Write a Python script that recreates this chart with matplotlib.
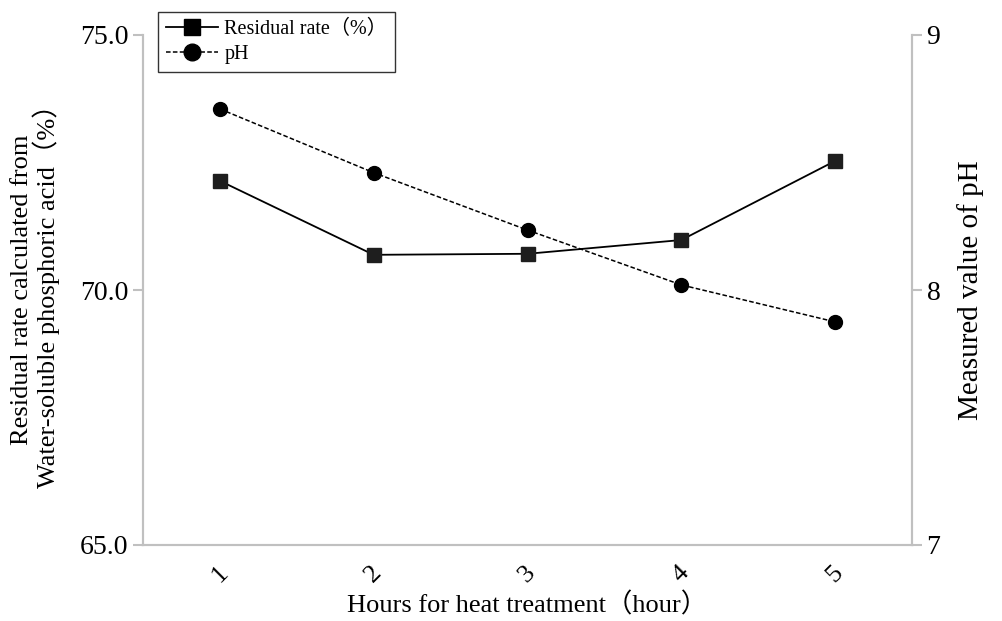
import matplotlib.pyplot as plt
from matplotlib.lines import Line2D

# datos
horas = [1, 2, 3, 4, 5]
residual = [72.14, 70.69, 70.71, 70.98, 72.53]
ph = [8.71, 8.46, 8.235, 8.02, 7.875]

serif = ['Liberation Serif', 'Noto Sans CJK JP']
plt.rcParams['font.family'] = serif

gris = '#c0c0c0'

fig = plt.figure(figsize=(10.03, 6.21), dpi=100)
ax = fig.add_axes([143 / 1003, 1 - 545 / 621, (912 - 143) / 1003, (545 - 35) / 621])
ax2 = ax.twinx()

ax.plot(horas, residual, '-', color='black', lw=1.3, marker='s', ms=10.5,
        mfc='#1e1e1e', mec='#1e1e1e', zorder=3)
ax2.plot(horas, ph, '--', color='black', lw=1.1, dashes=(3, 1.5), marker='o', ms=10,
         mfc='black', mec='black', zorder=3)

ax.set_xlim(0.5, 5.5)
ax.set_ylim(65, 75)
ax2.set_ylim(7, 9)
ax.set_yticks([65, 70, 75])
ax.set_yticklabels(['65.0', '70.0', '75.0'])
ax2.set_yticks([7, 8, 9])
ax.set_xticks(horas)
ax.set_xticklabels([str(h) for h in horas], rotation=45)

for a in (ax, ax2):
    a.spines['top'].set_visible(False)
    for s in ('left', 'right', 'bottom'):
        a.spines[s].set_color(gris)
        a.spines[s].set_linewidth(1.5)
    a.tick_params(axis='y', colors=gris, labelcolor='black', labelsize=20, length=7, width=1.5)
ax.tick_params(axis='x', length=0, labelsize=19, pad=12)

ax.set_xlabel('Hours for heat treatment（hour）', fontsize=19, labelpad=4)
ax.set_ylabel('Residual rate calculated from\nWater-soluble phosphoric acid（%）', fontsize=19,
              linespacing=1.0, labelpad=14)
ax2.set_ylabel('Measured value of pH', fontsize=21, labelpad=12)

handles = [
    Line2D([], [], color='black', lw=1.3, marker='s', ms=12, mfc='black', mec='black'),
    Line2D([], [], color='black', lw=1.1, ls='--', dashes=(3, 1.5), marker='o', ms=12,
           mfc='black', mec='black'),
]
leg = fig.legend(handles, ['Residual rate（%）', 'pH'], loc='upper left',
                 bbox_to_anchor=(158 / 1003, 1 - 12 / 621), bbox_transform=fig.transFigure,
                 fontsize=14.5, frameon=True, fancybox=False, handlelength=2.6,
                 borderpad=0.4, labelspacing=0.3, handletextpad=0.3, borderaxespad=0)
leg.get_frame().set_edgecolor('black')
leg.get_frame().set_linewidth(1.0)

fig.savefig('out.png', dpi=100)
